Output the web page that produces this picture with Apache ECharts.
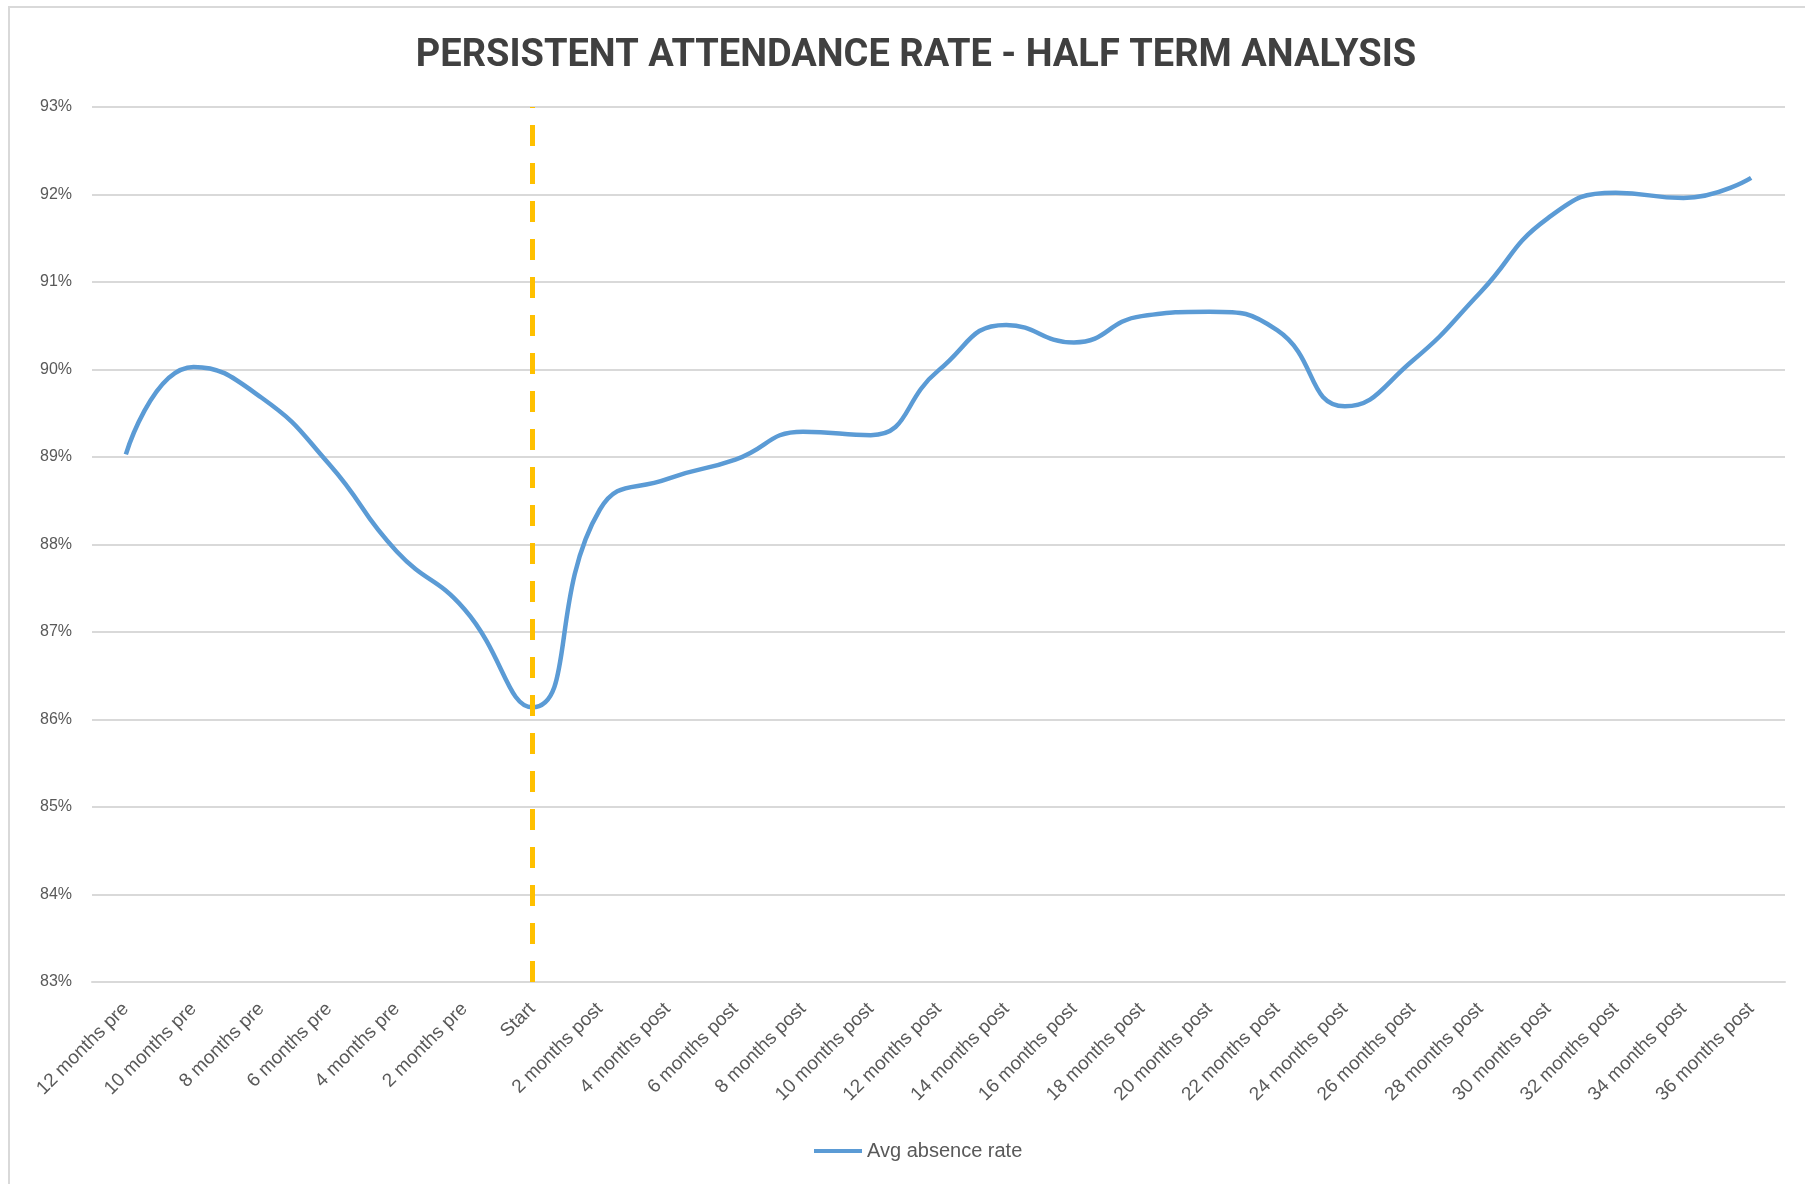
<!DOCTYPE html>
<html>
<head>
<meta charset="utf-8">
<title>Persistent attendance rate</title>
<script src="https://cdn.jsdelivr.net/npm/echarts@6/dist/echarts.min.js"></script>
<style>
  html, body { margin: 0; padding: 0; background: #fff; }
  #frame {
    position: absolute; left: 8px; top: 6px; width: 1797px; height: 1178px;
    border-top: 2px solid #d9d9d9; border-left: 2px solid #d9d9d9;
    box-sizing: border-box;
  }
  #chart { position: absolute; left: 0; top: 0; width: 1805px; height: 1184px; }
</style>
</head>
<body>
<div id="frame"></div>
<div id="chart"></div>
<script>
// categories along the x axis
const periods = [
  '12 months pre', '10 months pre', '8 months pre', '6 months pre', '4 months pre', '2 months pre',
  'Start',
  '2 months post', '4 months post', '6 months post', '8 months post', '10 months post', '12 months post',
  '14 months post', '16 months post', '18 months post', '20 months post', '22 months post', '24 months post',
  '26 months post', '28 months post', '30 months post', '32 months post', '34 months post', '36 months post'
]

// avg absence rate (%)
const absenceRate = [
  89.03, 90.03, 89.68, 88.92, 87.92, 87.26,
  86.14,
  88.40, 88.75, 88.97, 89.29, 89.25, 89.99,
  90.51, 90.31, 90.61, 90.66, 90.45, 89.58,
  90.10, 90.88, 91.73, 92.02, 91.96, 92.19
]

const yMin = 83
const yMax = 93
const startMarker = 'Start'

const chart = echarts.init(document.getElementById('chart'))

chart.setOption({
  backgroundColor: 'transparent',
  animation: false,
  title: {
    text: 'PERSISTENT ATTENDANCE RATE - HALF TERM ANALYSIS',
    left: 911,
    textAlign: 'center',
    top: 32,
    textStyle: {
      fontFamily: '"Liberation Sans Narrow", "Roboto", sans-serif',
      fontWeight: 'bold',
      fontSize: 38,
      color: '#404040'
    }
  },
  legend: {
    bottom: 18,
    left: 809,
    icon: 'rect',
    itemWidth: 48,
    itemHeight: 4,
    itemGap: 10,
    textStyle: {
      fontFamily: '"Liberation Sans", sans-serif',
      fontSize: 20,
      color: '#595959'
    },
    data: ['Avg absence rate']
  },
  grid: {
    left: 92,
    right: 20,
    top: 107,
    bottom: 202
  },
  xAxis: {
    type: 'category',
    data: periods,
    boundaryGap: true,
    axisLine: { lineStyle: { color: '#d9d9d9', width: 2 } },
    axisTick: { show: false },
    axisLabel: {
      interval: 0,
      rotate: 45,
      margin: 24,
      fontFamily: '"Liberation Sans", sans-serif',
      fontSize: 19,
      color: '#595959'
    }
  },
  yAxis: {
    type: 'value',
    min: yMin,
    max: yMax,
    interval: 1,
    axisLine: { show: false },
    axisTick: { show: false },
    axisLabel: {
      formatter: '{value}%',
      margin: 20,
      fontFamily: '"Liberation Sans", sans-serif',
      fontSize: 16,
      color: '#595959'
    },
    splitLine: { lineStyle: { color: '#d9d9d9', width: 2 } }
  },
  series: [{
    name: 'Avg absence rate',
    type: 'line',
    data: absenceRate,
    smooth: 0.5,
    symbol: 'none',
    itemStyle: { color: '#5b9bd5' },
    lineStyle: { color: '#5b9bd5', width: 4.5 },
    markLine: {
      silent: true,
      symbol: 'none',
      label: { show: false },
      lineStyle: { color: '#ffc000', width: 5, type: [21, 17] },
      data: [{ xAxis: startMarker }]
    }
  }]
})
</script>
</body>
</html>
